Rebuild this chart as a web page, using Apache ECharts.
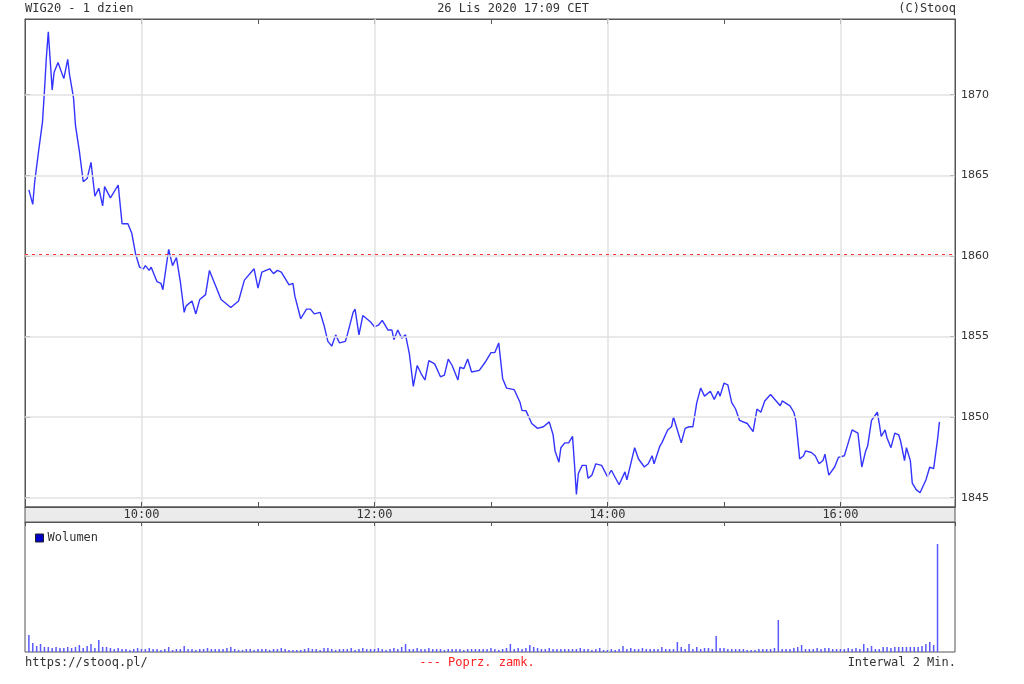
<!DOCTYPE html>
<html><head><meta charset="utf-8">
<script src="https://cdn.jsdelivr.net/npm/echarts@6/dist/echarts.min.js"></script>
<style>html,body{margin:0;padding:0;background:#fff}#c{width:1024px;height:684px}</style>
</head><body><div id="c"></div>
<script>
// Minutes after 09:00 for each read vertex of the WIG20 line
const priceMinutes = [
  2,4,5,7,9,10,11,12,13,14,
  15,17,20,22,23,25,26,28,30,32,
  34,36,38,40,41,44,48,50,53,55,
  57,59,61,62,64,65,68,70,71,74,
  76,78,80,82,83,86,88,90,93,95,
  96,101,102,106,110,113,118,120,122,126,
  128,130,132,136,138,139,142,145,147,149,
  152,154,156,158,160,162,165,166,169,170,
  172,174,176,178,180,182,184,187,189,190,
  192,194,196,198,199,200,202,204,206,208,
  211,214,216,218,220,223,224,226,228,230,
  234,237,240,242,244,246,248,252,255,256,
  258,261,264,267,270,272,273,275,276,278,
  280,282,283,284,285,287,289,290,292,294,
  297,300,302,306,309,310,314,316,319,321,
  323,324,327,328,331,333,334,336,338,340,
  342,344,346,348,350,353,355,357,358,360,
  362,364,366,368,372,375,377,379,381,384,
  385,389,390,394,396,397,398,399,401,402,
  405,407,409,411,412,414,417,419,422,424,
  426,429,431,433,434,436,439,440,441,443,
  444,446,448,450,451,453,454,456,457,459,
  461,462,464,466,468,470,471
];
const priceValues = [
  1864.1,1863.2,1864.6,1866.5,1868.3,1870.2,1872.3,1873.9,1872.1,1870.3,
  1871.4,1872.0,1871.0,1872.2,1871.2,1869.8,1868.1,1866.5,1864.6,1864.8,
  1865.8,1863.7,1864.2,1863.1,1864.3,1863.6,1864.4,1862.0,1862.0,1861.4,
  1860.1,1859.3,1859.2,1859.4,1859.1,1859.3,1858.4,1858.3,1857.9,1860.4,
  1859.4,1859.9,1858.4,1856.5,1856.9,1857.2,1856.4,1857.3,1857.6,1859.1,
  1859.1,1857.3,1857.2,1856.8,1857.2,1858.5,1859.2,1858.0,1859.0,1859.2,
  1858.9,1859.1,1859.0,1858.2,1858.3,1857.5,1856.1,1856.7,1856.7,1856.4,
  1856.5,1855.7,1854.7,1854.4,1855.1,1854.6,1854.7,1855.1,1856.5,1856.7,
  1855.1,1856.3,1856.1,1855.9,1855.6,1855.7,1856.0,1855.4,1855.4,1854.8,
  1855.4,1854.9,1855.1,1853.9,1852.9,1851.9,1853.2,1852.7,1852.3,1853.5,
  1853.3,1852.5,1852.6,1853.6,1853.2,1852.3,1853.1,1853.0,1853.6,1852.8,
  1852.9,1853.4,1854.0,1854.0,1854.6,1852.4,1851.8,1851.7,1850.9,1850.4,
  1850.4,1849.6,1849.3,1849.4,1849.7,1848.9,1847.9,1847.2,1848.1,1848.4,
  1848.4,1848.8,1847.1,1845.2,1846.5,1847.0,1847.0,1846.2,1846.4,1847.1,
  1847.0,1846.3,1846.7,1845.8,1846.6,1846.1,1848.1,1847.4,1846.9,1847.1,
  1847.6,1847.1,1848.2,1848.4,1849.2,1849.4,1850.0,1849.2,1848.4,1849.3,
  1849.4,1849.4,1850.9,1851.8,1851.3,1851.6,1851.1,1851.6,1851.3,1852.1,
  1852.0,1850.9,1850.5,1849.8,1849.6,1849.1,1850.5,1850.3,1851.0,1851.4,
  1851.4,1850.7,1851.0,1850.7,1850.3,1849.8,1848.6,1847.4,1847.6,1847.9,
  1847.8,1847.6,1847.1,1847.3,1847.7,1846.4,1846.9,1847.5,1847.6,1848.4,
  1849.2,1849.0,1846.9,1847.9,1848.2,1849.8,1850.3,1849.6,1848.8,1849.2,
  1848.7,1848.1,1849.0,1848.9,1848.5,1847.3,1848.1,1847.3,1845.9,1845.5,
  1845.3,1845.4,1846.1,1846.9,1846.8,1848.6,1849.7
];
// Volume per 2-minute interval (09:02 ... 16:50), relative units
const volumeValues = [
  17,9,6,8,5,5,4,5,4,4,5,4,5,7,4,6,8,4,12,5,
  5,4,3,4,3,3,2,3,4,3,3,4,3,3,2,3,5,2,3,3,
  6,3,3,2,3,3,4,3,3,3,3,4,5,3,2,2,3,3,2,3,
  3,3,2,3,3,4,3,2,2,2,2,3,4,3,3,2,4,4,3,2,
  3,3,3,4,2,3,4,3,3,3,4,3,2,3,4,3,5,8,3,3,
  4,3,3,4,3,3,3,2,3,3,3,3,2,3,3,3,3,3,3,4,
  3,2,3,4,8,3,4,3,4,7,5,4,3,3,4,3,3,3,3,3,
  3,3,4,3,3,2,3,4,2,2,3,2,3,6,3,4,3,3,4,3,
  3,3,3,5,3,3,3,10,5,3,8,3,5,3,4,4,3,16,4,4,
  3,3,3,3,3,2,2,2,3,3,3,3,4,32,3,3,3,4,5,7,
  3,3,3,4,3,4,4,3,3,3,3,4,3,4,3,8,4,6,3,3,
  5,5,4,5,5,5,5,5,5,5,6,8,10,7,108
];
const volumeStepMinutes = 2;
const yTickValues = [1845, 1850, 1855, 1860, 1865, 1870];
const xGridMinutes = [60, 180, 300, 420];
const prevClose = 1860.13;
const xMin = 0, xMax = 479;
const yMin = 1844.42, yMax = 1874.7;

const MONO = '"DejaVu Sans Mono", monospace';
const SANS = '"DejaVu Sans", sans-serif';
function hhmm(m) {
  const t = 540 + m; const h = Math.floor(t / 60), mm = t % 60;
  return h + ':' + String(mm).padStart(2, '0');
}
const priceData = priceMinutes.map((m, i) => [m, priceValues[i]]);
const volumeData = volumeValues.map((v, i) => [(i + 1) * volumeStepMinutes, v]);

const chart = echarts.init(document.getElementById('c'), null, {renderer: 'canvas'});
const axisCol = '#555';
const gridCol = '#e2e2e2';
const opt = {
  animation: false,
  backgroundColor: '#fff',
  grid: [
    {left: 25, width: 930, top: 19, height: 488, show: true, borderColor: axisCol, borderWidth: 1, backgroundColor: '#fff'},
    {left: 25, width: 930, top: 522, height: 130, show: true, borderColor: axisCol, borderWidth: 1, backgroundColor: '#fff'}
  ],
  xAxis: [
    {gridIndex: 0, type: 'value', min: xMin, max: xMax, interval: 60, position: 'bottom', z: 10,
     axisLine: {show: true, onZero: false, lineStyle: {color: axisCol}},
     axisTick: {show: true, inside: true, length: 5, lineStyle: {color: axisCol}},
     axisLabel: {show: true, margin: 2, fontFamily: MONO, fontSize: 12, color: '#333',
       formatter: v => (v % 120 === 60 ? hhmm(v) : '')},
     splitLine: {show: false}},
    {gridIndex: 0, type: 'value', min: xMin, max: xMax, interval: 60, position: 'top',
     axisLine: {show: true, onZero: false, lineStyle: {color: axisCol}},
     axisTick: {show: true, inside: true, length: 5, lineStyle: {color: axisCol}},
     axisLabel: {show: false}, splitLine: {show: false}},
    {gridIndex: 1, type: 'value', min: xMin, max: xMax, interval: 60, position: 'top', z: 10,
     axisLine: {show: true, onZero: false, lineStyle: {color: axisCol}},
     axisTick: {show: true, inside: true, length: 4, lineStyle: {color: axisCol}},
     axisLabel: {show: false}, splitLine: {show: false}}
  ],
  yAxis: [
    {gridIndex: 0, type: 'value', min: yMin, max: yMax, position: 'right',
     axisLine: {show: true, onZero: false, lineStyle: {color: axisCol}},
     axisTick: {show: true, inside: true, length: 5, customValues: yTickValues, lineStyle: {color: axisCol}},
     axisLabel: {show: true, margin: 6, customValues: yTickValues, fontFamily: SANS, fontSize: 11, color: '#333',
       formatter: v => String(Math.round(v))},
     splitLine: {show: false}},
    {gridIndex: 0, type: 'value', min: yMin, max: yMax, position: 'left',
     axisLine: {show: true, onZero: false, lineStyle: {color: axisCol}},
     axisTick: {show: true, inside: true, length: 5, customValues: yTickValues, lineStyle: {color: axisCol}},
     axisLabel: {show: false}, splitLine: {show: false}},
    {gridIndex: 1, type: 'value', min: 0, max: 130, show: false, splitLine: {show: false}}
  ],
  legend: {
    data: ['Wolumen'], left: 30, top: 527, icon: 'rect', itemWidth: 8, itemHeight: 8,
    selectedMode: false,
    itemStyle: {color: '#0000c8', borderColor: '#222', borderWidth: 1},
    textStyle: {fontFamily: MONO, fontSize: 12, color: '#333', padding: [0, 0, 0, -1]}
  },
  series: [
    {name: 'grid', type: 'line', xAxisIndex: 0, yAxisIndex: 0, data: priceData, z: 1,
     showSymbol: false, silent: true, lineStyle: {opacity: 0},
     markLine: {symbol: ['none', 'none'], silent: true, label: {show: false}, animation: false,
       lineStyle: {color: gridCol, width: 1.5, type: 'solid'},
       data: xGridMinutes.map(v => ({xAxis: v})).concat(yTickValues.map(v => ({yAxis: v})))}},
    {name: 'WIG20', type: 'line', xAxisIndex: 0, yAxisIndex: 0, data: priceData, z: 3,
     showSymbol: false, smooth: false,
     lineStyle: {color: '#3434ff', width: 1.4},
     markLine: {symbol: ['none', 'none'], silent: true, label: {show: false}, animation: false,
       lineStyle: {color: '#ff3030', width: 1, type: [3, 4]},
       data: [{yAxis: prevClose}]}},
    {name: 'Wolumen', type: 'bar', xAxisIndex: 2, yAxisIndex: 2, data: volumeData, barWidth: 1.5, z: 3,
     itemStyle: {color: '#5a5aff', borderWidth: 0},
     markLine: {symbol: ['none', 'none'], silent: true, label: {show: false}, animation: false, z: 1,
       lineStyle: {color: gridCol, width: 1.5, type: 'solid'},
       data: xGridMinutes.map(v => ({xAxis: v}))}}
  ],
  graphic: [
    {type: 'rect', z: 1, shape: {x: 25, y: 507, width: 930, height: 15},
     style: {fill: '#ebebeb', stroke: axisCol, lineWidth: 1}},
    {type: 'text', x: 25, y: 9, style: {text: 'WIG20 - 1 dzien', font: '12px ' + MONO, fill: '#333', align: 'left', verticalAlign: 'middle'}},
    {type: 'text', x: 513, y: 9, style: {text: '26 Lis 2020 17:09 CET', font: '12px ' + MONO, fill: '#333', align: 'center', verticalAlign: 'middle'}},
    {type: 'text', x: 956, y: 9, style: {text: '(C)Stooq', font: '12px ' + MONO, fill: '#333', align: 'right', verticalAlign: 'middle'}},
    {type: 'text', x: 25, y: 663, style: {text: 'https://stooq.pl/', font: '12px ' + MONO, fill: '#333', align: 'left', verticalAlign: 'middle'}},
    {type: 'text', x: 477, y: 663, style: {text: '--- Poprz. zamk.', font: '12px ' + MONO, fill: '#ff2020', align: 'center', verticalAlign: 'middle'}},
    {type: 'text', x: 956, y: 663, style: {text: 'Interwal 2 Min.', font: '12px ' + MONO, fill: '#333', align: 'right', verticalAlign: 'middle'}}
  ]
};
chart.setOption(opt);
</script></body></html>
